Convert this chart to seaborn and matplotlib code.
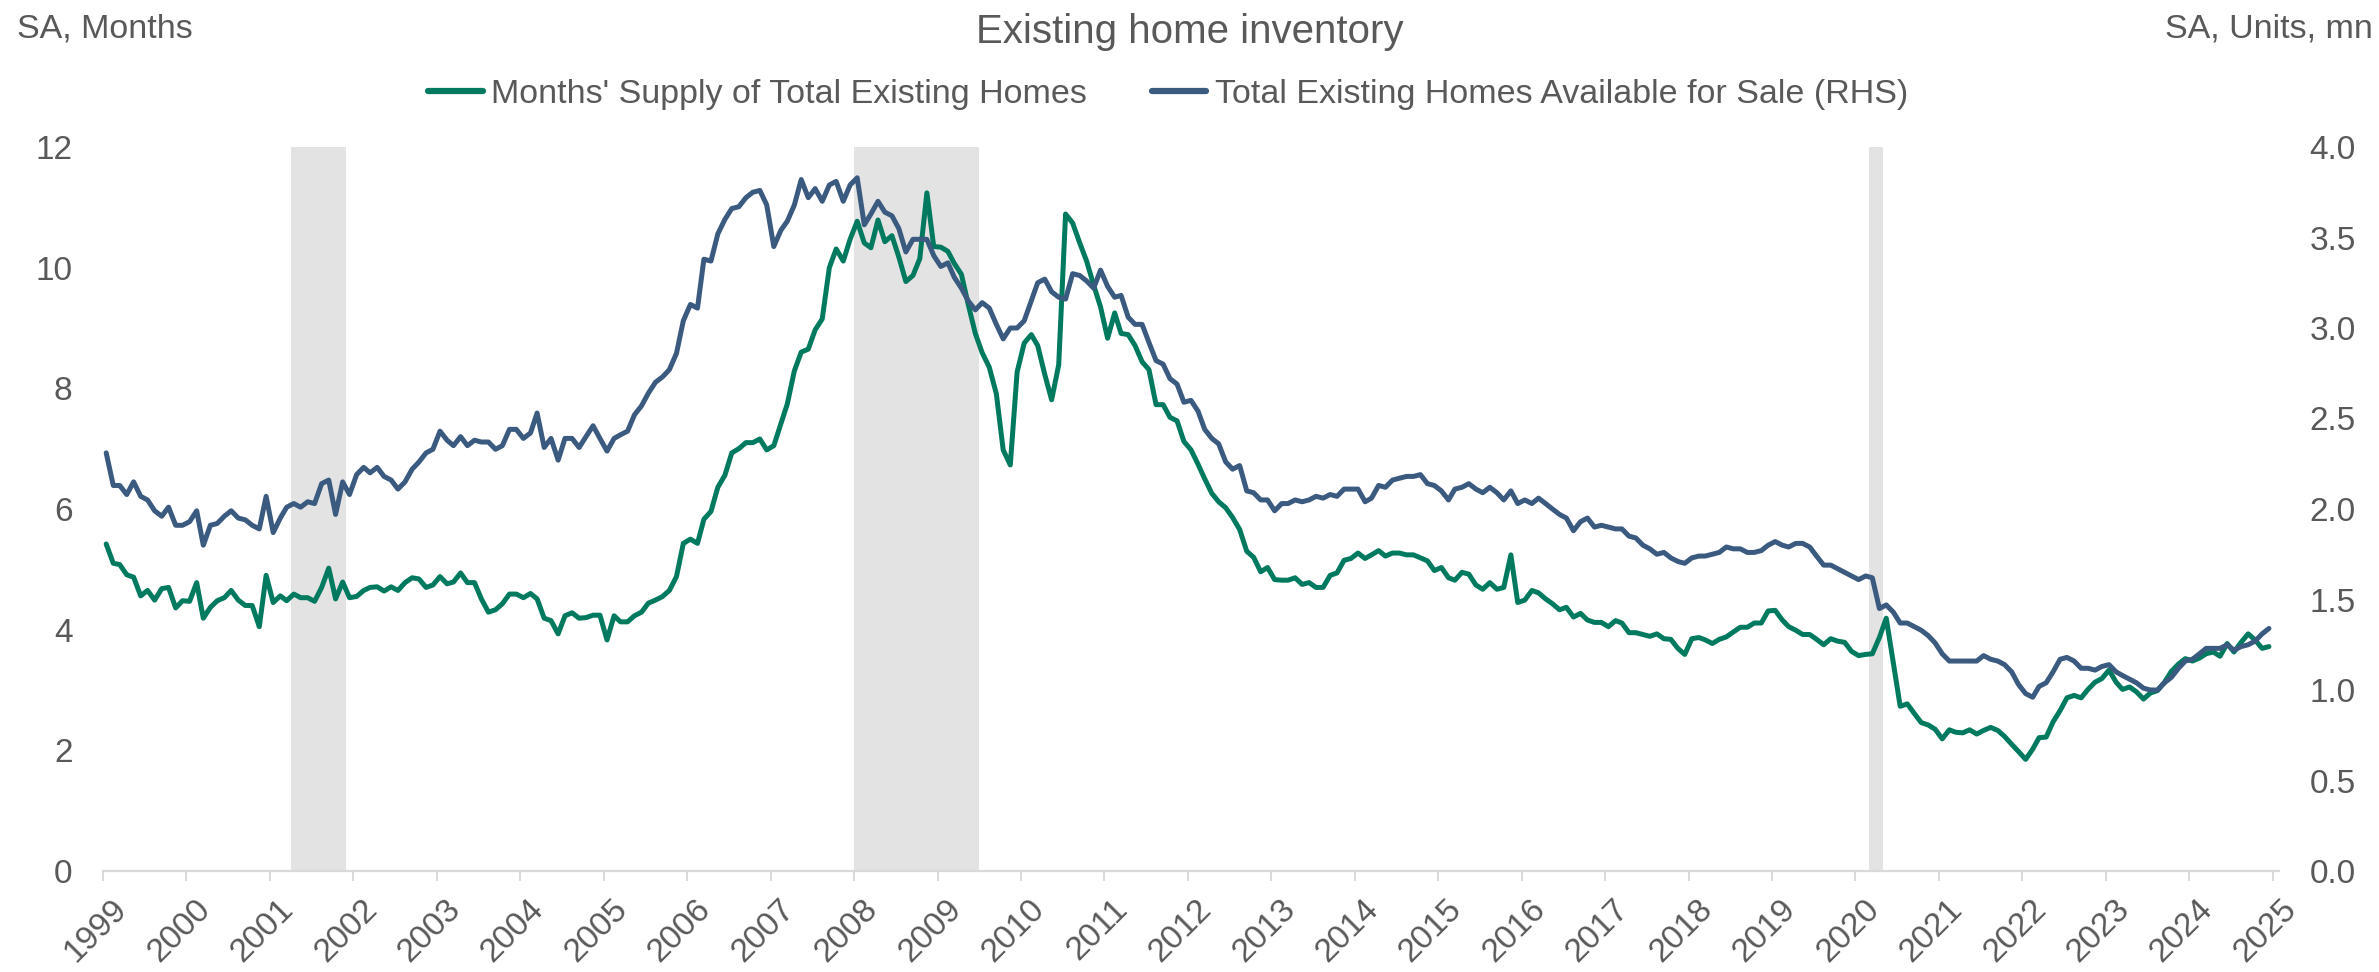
import numpy as np
import pandas as pd
import matplotlib
matplotlib.use("Agg")
import matplotlib.pyplot as plt
import matplotlib.dates as mdates
from matplotlib.lines import Line2D
from matplotlib.transforms import ScaledTranslation
import seaborn as sns

# ---------------- data (monthly, Jan 1999 - Dec 2024) ----------------
months_supply = [
    5.42,5.10,5.08,4.91,4.87,4.56,4.65,4.49,4.68,4.70,4.36,4.48,
    4.47,4.78,4.19,4.37,4.48,4.53,4.65,4.49,4.40,4.40,4.05,4.90,
    4.45,4.56,4.48,4.59,4.53,4.53,4.47,4.70,5.02,4.51,4.79,4.53,
    4.55,4.65,4.70,4.71,4.64,4.71,4.65,4.78,4.86,4.84,4.70,4.74,
    4.88,4.76,4.79,4.94,4.78,
    4.78,4.51,4.29,4.33,4.43,4.59,4.59,4.53,4.60,4.51,
    4.19,4.15,3.93,4.23,4.28,4.19,4.20,4.24,4.24,3.83,
    4.23,4.13,4.13,4.23,4.29,4.44,4.49,4.55,4.65,4.88,
    5.43,5.50,5.43,5.83,5.96,6.36,6.56,6.93,7.00,7.10,
    7.10,7.16,6.98,7.05,7.41,7.74,8.29,8.60,8.65,8.97,
    9.15,10.0,
    10.31,10.11,10.47,10.77,10.41,10.33,10.79,10.43,10.53,10.18,
    9.77,9.87,10.15,11.24,10.35,10.34,10.27,10.07,9.89,9.39,
    8.91,8.59,8.35,7.91,6.98,6.73,8.27,8.75,8.89,8.71,
    8.23,7.81,8.39,10.89,10.74,10.41,10.11,9.71,9.35,8.83,
    9.25,8.91,8.89,8.71,8.44,8.31,7.73,7.73,7.52,7.46,
    7.12,6.98,
    6.74,6.50,6.26,6.12,6.02,5.86,5.66,5.30,5.20,4.96,
    5.03,4.83,4.82,4.82,4.86,4.75,4.78,4.70,4.70,4.90,
    4.94,5.15,5.18,5.27,5.18,5.24,5.31,5.22,5.27,5.27,
    5.24,5.24,5.19,5.14,4.98,5.03,4.86,4.82,4.95,4.92,
    4.74,4.67,4.78,4.67,4.70,5.24,4.45,4.49,4.65,4.61,
    4.51,
    4.43,4.33,4.37,4.21,4.27,4.16,4.12,4.12,4.05,4.15,
    4.11,3.95,3.95,3.92,3.89,3.93,3.85,3.84,3.69,3.59,
    3.85,3.87,3.83,3.77,3.84,3.88,3.96,4.04,4.04,4.11,
    4.11,4.31,4.32,4.16,4.05,3.99,3.92,3.92,3.84,3.75,
    3.85,3.81,3.79,3.64,3.57,3.59,3.60,3.87,4.19,3.45,
    2.73,2.77,
    2.61,2.46,2.42,2.35,2.19,2.34,2.30,2.29,2.34,2.27,
    2.33,2.38,2.33,2.23,2.10,1.98,1.85,2.02,2.21,2.22,
    2.47,2.66,2.87,2.91,2.87,3.01,3.13,3.19,3.33,3.13,
    3.01,3.05,2.97,2.85,2.95,2.99,3.13,3.31,3.43,3.52,
    3.48,3.53,3.60,3.63,3.56,3.77,3.63,3.79,3.93,3.83,
    3.69,3.72,
]

homes_for_sale = [
    2.31,2.13,2.13,2.08,2.15,2.07,2.05,1.99,1.96,2.01,
    1.91,1.91,1.93,1.99,1.80,1.91,1.92,1.96,1.99,1.95,
    1.94,1.91,1.89,2.07,1.87,1.95,2.01,2.03,2.01,2.04,
    2.03,2.14,2.16,1.97,2.15,2.08,2.19,2.23,2.20,2.23,
    2.18,2.16,2.11,2.15,2.22,2.26,2.31,2.33,2.43,2.38,
    2.35,2.40,2.35,
    2.38,2.37,2.37,2.33,2.35,2.44,2.44,2.39,2.42,2.53,
    2.34,2.39,2.27,2.39,2.39,2.34,2.40,2.46,2.39,2.32,
    2.39,2.41,2.43,2.52,2.57,2.64,2.70,2.73,2.77,2.86,
    3.04,3.13,3.11,3.38,3.37,3.52,3.60,3.66,3.67,3.72,
    3.75,3.76,3.68,3.45,3.54,3.59,3.68,3.82,3.72,3.77,
    3.70,3.79,
    3.81,3.70,3.79,3.83,3.57,3.63,3.70,3.64,3.62,3.55,
    3.42,3.49,3.49,3.49,3.40,3.34,3.36,3.28,3.22,3.15,
    3.10,3.14,3.11,3.02,2.94,3.00,3.00,3.04,3.15,3.25,
    3.27,3.20,3.17,3.16,3.30,3.29,3.26,3.22,3.32,3.23,
    3.17,3.18,3.06,3.02,3.02,2.92,2.82,2.80,2.72,2.69,
    2.59,2.60,
    2.54,2.44,2.39,2.36,2.26,2.22,2.24,2.10,2.09,2.05,
    2.05,1.99,2.03,2.03,2.05,2.04,2.05,2.07,2.06,2.08,
    2.07,2.11,2.11,2.11,2.04,2.06,2.13,2.12,2.16,2.17,
    2.18,2.18,2.19,2.14,2.13,2.10,2.05,2.11,2.12,2.14,
    2.11,2.09,2.12,2.09,2.05,2.10,2.03,2.05,2.03,2.06,
    2.03,
    2.00,1.97,1.95,1.88,1.93,1.95,1.90,1.91,1.90,1.89,
    1.89,1.85,1.84,1.80,1.78,1.75,1.76,1.73,1.71,1.70,
    1.73,1.74,1.74,1.75,1.76,1.79,1.78,1.78,1.76,1.76,
    1.77,1.80,1.82,1.80,1.79,1.81,1.81,1.79,1.74,1.69,
    1.69,1.67,1.65,1.63,1.61,1.63,1.62,1.45,1.47,1.43,
    1.37,1.37,
    1.35,1.33,1.30,1.26,1.20,1.16,1.16,1.16,1.16,1.16,
    1.19,1.17,1.16,1.14,1.10,1.03,0.98,0.96,1.02,1.04,
    1.10,1.17,1.18,1.16,1.12,1.12,1.11,1.13,1.14,1.10,
    1.08,1.06,1.04,1.01,1.00,1.00,1.04,1.07,1.12,1.16,
    1.17,1.20,1.23,1.23,1.23,1.25,1.22,1.24,1.25,1.27,
    1.31,1.34,
]

recession_start = ["2001-04-01", "2008-01-01", "2020-03-01"]
recession_end = ["2001-12-01", "2009-07-01", "2020-05-01"]

series_names = ["Months' Supply of Total Existing Homes",
                "Total Existing Homes Available for Sale (RHS)"]
title = "Existing home inventory"
left_unit = "SA, Months"
right_unit = "SA, Units, mn"
left_ticks = [0, 2, 4, 6, 8, 10, 12]
right_ticks = [0.0, 0.5, 1.0, 1.5, 2.0, 2.5, 3.0, 3.5, 4.0]

# ---------------- styling ----------------
GREEN = "#007a5e"
BLUE = "#3b5a7f"
TXT = "#595959"
AXC = "#d9d9d9"
BAND = "#e3e3e3"

sns.set_theme(style="white")
plt.rcParams["font.family"] = ["Liberation Sans", "DejaVu Sans"]

dates = pd.date_range("1999-01-01", periods=len(months_supply), freq="MS") + pd.Timedelta(days=14)
df = pd.DataFrame({"date": dates, "supply": months_supply, "forsale": homes_for_sale})

fig = plt.figure(figsize=(23.79, 9.72), dpi=100)
fig.patch.set_facecolor("white")
ax = fig.add_axes([103 / 2379, 101 / 972, (2279 - 103) / 2379, (871 - 147) / 972])
ax2 = ax.twinx()

for s, e in zip(recession_start, recession_end):
    ax.axvspan(pd.Timestamp(s), pd.Timestamp(e), color=BAND, lw=0, zorder=0)

sns.lineplot(data=df, x="date", y="supply", ax=ax, color=GREEN, lw=3.6, zorder=3)
sns.lineplot(data=df, x="date", y="forsale", ax=ax2, color=BLUE, lw=3.6, zorder=3)

ax.set_xlim(pd.Timestamp("1999-01-01"), pd.Timestamp("2025-01-28"))
ax.set_ylim(0, 12)
ax2.set_ylim(0, 4)
ax.set_yticks(left_ticks)
ax.set_yticklabels([str(t) for t in left_ticks])
ax2.set_yticks(right_ticks)
ax2.set_yticklabels([f"{t:.1f}" for t in right_ticks])
ax.set_xlabel("")
ax.set_ylabel("")
ax2.set_ylabel("")

ax.xaxis.set_major_locator(mdates.YearLocator(1))
ax.xaxis.set_major_formatter(mdates.DateFormatter("%Y"))

for a in (ax, ax2):
    for sp in ("top", "left", "right", "bottom"):
        a.spines[sp].set_visible(False)
    a.grid(False)
ax.spines["bottom"].set_visible(True)
ax.spines["bottom"].set_color(AXC)
ax.spines["bottom"].set_linewidth(1.6)

ax.tick_params(axis="x", which="major", direction="out", length=7.5, width=1.4,
               color=AXC, labelsize=24, labelcolor=TXT, pad=9, bottom=True)
ax.tick_params(axis="y", length=0, labelsize=24, labelcolor=TXT, pad=22, left=True)
ax2.tick_params(axis="y", length=0, labelsize=24, labelcolor=TXT, pad=22, right=True)

offset = ScaledTranslation(8 / 100, 0, fig.dpi_scale_trans)
for lbl in ax.get_xticklabels():
    lbl.set_rotation(45)
    lbl.set_ha("right")
    lbl.set_va("top")
    lbl.set_rotation_mode("anchor")
    lbl.set_transform(lbl.get_transform() + offset)

fig.text(0.5, 1 - 32 / 972, title, ha="center", va="center", fontsize=29, color=TXT)
fig.text(17 / 2379, 1 - 38 / 972, left_unit, ha="left", va="baseline", fontsize=24.5, color=TXT)
fig.text(2373 / 2379, 1 - 38 / 972, right_unit, ha="right", va="baseline", fontsize=24.5, color=TXT)

handles = [Line2D([0], [0], color=GREEN, lw=4.5, solid_capstyle="round"),
           Line2D([0], [0], color=BLUE, lw=4.5, solid_capstyle="round")]
fig.legend(handles, series_names, loc="center", bbox_to_anchor=(1168 / 2379, 1 - 94 / 972),
           ncol=2, frameon=False, fontsize=24.5, labelcolor=TXT, handlelength=1.6,
           handletextpad=0.25, columnspacing=1.9)

fig.savefig("out.png", dpi=100, facecolor="white")
